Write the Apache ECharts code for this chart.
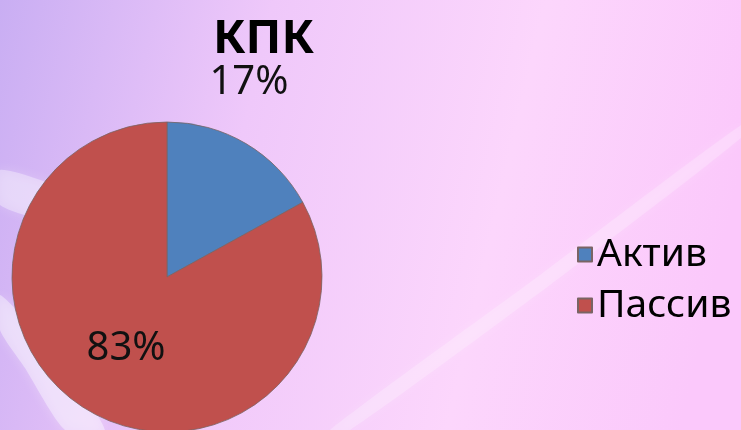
<!doctype html>
<html lang="ru">
<head>
    <meta charset="UTF-8">
    <title>КПК</title>
    <style>
        html, body { margin: 0; padding: 0; }
        #chart { width: 741px; height: 430px; }
    </style>
</head>
<body>
<div id="chart"></div>
<script src="https://cdn.jsdelivr.net/npm/echarts@6/dist/echarts.min.js"></script>
<script type="text/javascript">
    // данные диаграммы
    var categories = ["Актив", "Пассив"];
    var values = [17, 83];
    var colors = ["#4f81bd", "#c0504d"];

    var chart = echarts.init(document.getElementById('chart'));

    var pieData = [];
    for (var i = 0; i < categories.length; i++) {
        pieData.push({name: categories[i], value: values[i], itemStyle: {color: colors[i]}});
    }

    // светлые полосы на фоне (декор)
    var streaks = [
        {points: [[0, 170], [70, 192], [150, 250], [150, 290], [70, 230], [0, 205]], opacity: 0.35},
        {points: [[0, 295], [50, 348], [105, 430], [65, 430], [25, 368], [0, 330]], opacity: 0.4},
        {points: [[330, 430], [540, 275], [741, 125], [741, 138], [550, 285], [350, 430]], opacity: 0.22}
    ];
    var bgGraphics = [];
    for (var j = 0; j < streaks.length; j++) {
        bgGraphics.push({
            type: 'polygon',
            z: -10,
            shape: {points: streaks[j].points, smooth: 0.2},
            style: {
                fill: 'rgba(255,255,255,' + streaks[j].opacity + ')',
                shadowBlur: 12,
                shadowColor: 'rgba(255,255,255,0.6)'
            }
        });
    }

    var option = {
        backgroundColor: {
            type: 'linear', x: 0, y: 0, x2: 1, y2: 0.4,
            colorStops: [
                {offset: 0, color: '#c9aef3'},
                {offset: 0.35, color: '#efc8fa'},
                {offset: 0.7, color: '#fcd6fc'},
                {offset: 1, color: '#fbc8fb'}
            ]
        },
        graphic: bgGraphics,
        title: {
            text: 'КПК',
            left: 208,
            top: 11,
            textStyle: {
                fontFamily: 'Noto Sans',
                fontWeight: 'bold',
                fontSize: 47,
                color: '#000'
            }
        },
        legend: {
            orient: 'vertical',
            left: 572,
            top: 230,
            itemWidth: 14,
            itemHeight: 14,
            itemGap: 12,
            icon: 'rect',
            data: categories,
            textStyle: {
                fontFamily: 'Noto Sans',
                fontSize: 39,
                color: '#000'
            }
        },
        series: [{
            type: 'pie',
            center: [167, 277],
            radius: 155,
            startAngle: 90,
            clockwise: true,
            animation: false,
            itemStyle: {borderColor: '#7a6464', borderWidth: 0.8},
            label: {
                show: true,
                position: 'inside',
                formatter: '{c}%',
                fontFamily: 'Noto Sans',
                fontSize: 40,
                color: '#111'
            },
            labelLine: {show: false},
            labelLayout: function (params) {
                if (params.dataIndex === 0) {
                    return {dx: 41, dy: -125};
                }
                return {dy: 2};
            },
            data: pieData
        }]
    };
    chart.setOption(option);
</script>
</body>
</html>
